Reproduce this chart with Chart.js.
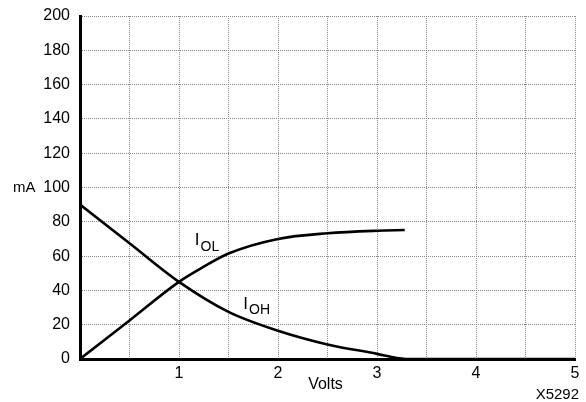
<!DOCTYPE html>
<html>
<head>
<meta charset="utf-8">
<script src="https://cdn.jsdelivr.net/npm/chart.js@4"></script>
<style>
  html, body { margin: 0; padding: 0; background: #fff; }
  #wrap { width: 586px; height: 402px; position: relative; }
</style>
</head>
<body>
<div id="wrap"><canvas id="chartIV"></canvas></div>
<script>
// output current vs. voltage
var voltsOL = [0, 0.5, 1, 1.25, 1.5, 2, 2.5, 3, 3.28];
var currentOL = [0, 22.5, 45, 53.8, 61.5, 70, 73.3, 74.8, 75.2];
var voltsOH = [0, 0.5, 1, 1.5, 2, 2.5, 3, 3.2, 3.3];
var currentOH = [90, 67.5, 45, 27.5, 16.5, 8.5, 3, 0.6, 0];
// IOH stays at zero beyond cut-off
var voltsOHTail = [3.3, 5];
var currentOHTail = [0, 0];
var yTicks = [0, 20, 40, 60, 80, 100, 120, 140, 160, 180, 200];
var xLabels = [1, 2, 3, 4, 5];

function toPoints(xs, ys) {
  return xs.map(function (x, i) { return { x: x, y: ys[i] }; });
}

var FONT = "'Liberation Sans', Arial, Helvetica, sans-serif";

// axis captions and curve names
var annotations = {
  id: "annotations",
  afterDraw: function (chart) {
    var ctx = chart.ctx;
    var xs = chart.scales.x, ys = chart.scales.y;
    ctx.save();
    ctx.fillStyle = "#000";
    ctx.textBaseline = "middle";
    ctx.font = "15px " + FONT;
    ctx.textAlign = "left";
    ctx.fillText("mA", 13, ys.getPixelForValue(100));
    ctx.textAlign = "center";
    ctx.font = "16px " + FONT;
    ctx.fillText("Volts", xs.getPixelForValue(2.48), 385);
    ctx.textAlign = "right";
    ctx.font = "15px " + FONT;
    ctx.fillText("X5292", 579, 395);

    function subLabel(main, sub, vx, vy) {
      var px = xs.getPixelForValue(vx), py = ys.getPixelForValue(vy);
      ctx.textAlign = "left";
      ctx.font = "17px " + FONT;
      ctx.fillText(main, px, py);
      var w = ctx.measureText(main).width;
      ctx.font = "14px " + FONT;
      ctx.fillText(sub, px + w + 1, py + 6);
    }
    subLabel("I", "OL", 1.16, 69);
    subLabel("I", "OH", 1.65, 32);
    ctx.restore();
  }
};

var lineStyle = {
  borderColor: "#000",
  borderWidth: 2.6,
  cubicInterpolationMode: "monotone",
  fill: false
};

new Chart(document.getElementById("chartIV"), {
  type: "line",
  data: {
    datasets: [
      Object.assign({ label: "IOL", data: toPoints(voltsOL, currentOL) }, lineStyle),
      Object.assign({ label: "IOH", data: toPoints(voltsOH, currentOH) }, lineStyle),
      Object.assign({ label: "IOH tail", data: toPoints(voltsOHTail, currentOHTail) }, lineStyle)
    ]
  },
  options: {
    responsive: true,
    maintainAspectRatio: false,
    animation: false,
    layout: { padding: { top: 16, right: 11, left: 0, bottom: 0 } },
    elements: { point: { radius: 0 } },
    plugins: {
      legend: { display: false },
      tooltip: { enabled: false }
    },
    scales: {
      x: {
        type: "linear",
        min: 0,
        max: 5,
        afterFit: function (s) {
          s.height = 43;
          s.paddingLeft = 0;
          s.paddingRight = 0;
        },
        afterBuildTicks: function (s) {
          var t = [];
          for (var v = 0; v <= 5; v += 0.5) t.push({ value: v });
          s.ticks = t;
        },
        grid: { color: "#8a8a8a", lineWidth: 1, drawTicks: false },
        border: { color: "#000", width: 3, dash: [1, 1] },
        ticks: {
          color: "#000",
          padding: 5,
          maxRotation: 0,
          autoSkip: false,
          font: { family: FONT, size: 16 },
          callback: function (v) { return xLabels.indexOf(v) >= 0 ? String(v) : ""; }
        }
      },
      y: {
        min: 0,
        max: 200,
        afterFit: function (s) {
          s.width = 80;
          s.paddingTop = 0;
          s.paddingBottom = 0;
        },
        afterBuildTicks: function (s) {
          s.ticks = yTicks.map(function (v) { return { value: v }; });
        },
        grid: { color: "#8a8a8a", lineWidth: 1, drawTicks: false },
        border: { color: "#000", width: 3, dash: [1, 1] },
        ticks: {
          color: "#000",
          padding: 10,
          font: { family: FONT, size: 16 }
        }
      }
    }
  },
  plugins: [annotations]
});
</script>
</body>
</html>
